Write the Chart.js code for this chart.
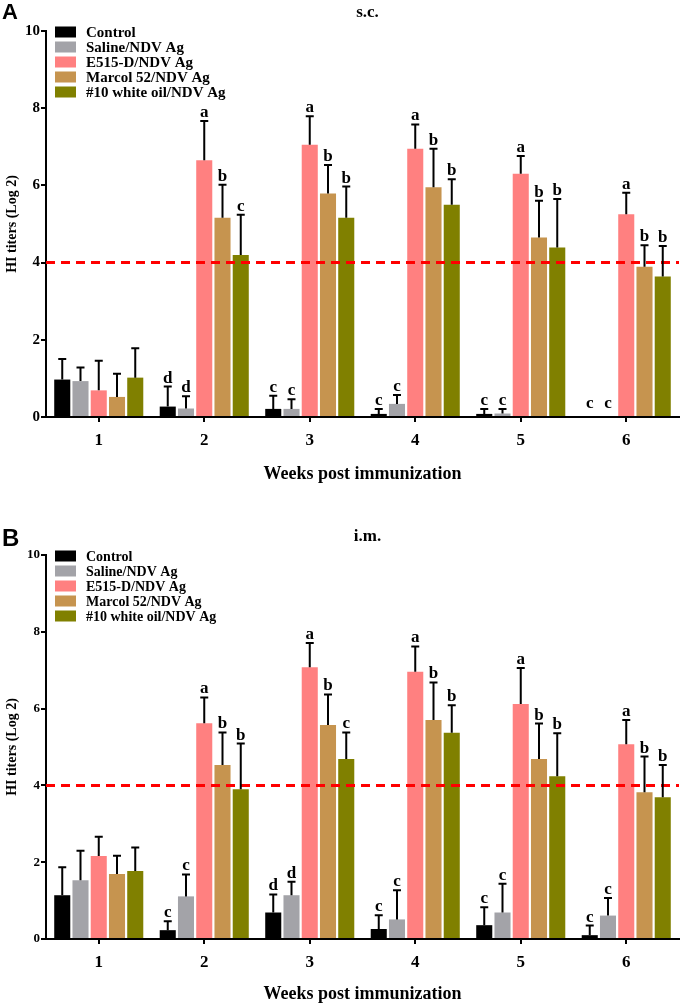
<!DOCTYPE html>
<html>
<head>
<meta charset="utf-8">
<script src="https://cdn.jsdelivr.net/npm/chart.js"></script>
<style>
  body { margin: 0; background: #fff; }
  canvas { display: block; }
</style>
</head>
<body>
<canvas id="chartA" width="688" height="504"></canvas>
<canvas id="chartB" width="688" height="504"></canvas>
<script>
const weeks = ["1", "2", "3", "4", "5", "6"];
const groups = ["Control", "Saline/NDV Ag", "E515-D/NDV Ag", "Marcol 52/NDV Ag", "#10 white oil/NDV Ag"];
const colors = ["#000000", "#a3a3a8", "#ff8080", "#c6944f", "#808000"];
const yTicks = [0, 2, 4, 6, 8, 10];
const cutoff = 4;

// s.c. - mean titers per group, one row per group
const scMeans = [
  [0.97, 0.27, 0.21, 0.08, 0.08, 0],
  [0.93, 0.22, 0.21, 0.34, 0.09, 0],
  [0.69, 6.65, 7.05, 6.95, 6.30, 5.25],
  [0.52, 5.16, 5.79, 5.95, 4.65, 3.89],
  [1.02, 4.20, 5.16, 5.50, 4.39, 3.64],
];
const scSD = [
  [0.53, 0.52, 0.34, 0.13, 0.13, 0],
  [0.35, 0.32, 0.25, 0.23, 0.12, 0],
  [0.77, 1.02, 0.74, 0.63, 0.46, 0.56],
  [0.60, 0.86, 0.74, 1.00, 0.95, 0.56],
  [0.76, 1.04, 0.81, 0.66, 1.26, 0.79],
];
const scLetters = [
  ["", "d", "c", "c", "c", "c"],
  ["", "d", "c", "c", "c", "c"],
  ["", "a", "a", "a", "a", "a"],
  ["", "b", "b", "b", "b", "b"],
  ["", "c", "b", "b", "b", "b"],
];

// i.m.
const imMeans = [
  [1.14, 0.23, 0.69, 0.26, 0.36, 0.10],
  [1.53, 1.11, 1.14, 0.51, 0.69, 0.61],
  [2.16, 5.62, 7.08, 6.96, 6.12, 5.07],
  [1.69, 4.53, 5.57, 5.70, 4.69, 3.82],
  [1.77, 3.90, 4.69, 5.37, 4.24, 3.69],
];
const imSD = [
  [0.73, 0.23, 0.47, 0.36, 0.47, 0.25],
  [0.77, 0.57, 0.35, 0.76, 0.75, 0.46],
  [0.50, 0.67, 0.63, 0.66, 0.94, 0.63],
  [0.48, 0.85, 0.80, 0.98, 0.92, 0.93],
  [0.61, 1.19, 0.69, 0.72, 1.12, 0.84],
];
const imLetters = [
  ["", "c", "d", "c", "c", "c"],
  ["", "c", "d", "c", "c", "c"],
  ["", "a", "a", "a", "a", "a"],
  ["", "b", "b", "b", "b", "b"],
  ["", "b", "c", "b", "b", "b"],
];

const serif = "'Liberation Serif', 'Times New Roman', serif";

// error bars, letters, cutoff line, legend and titles
const extras = {
  id: "extras",
  afterDatasetsDraw(chart, args, opts) {
    const { ctx, chartArea } = chart;
    const y = chart.scales.y;
    ctx.save();

    // dashed cutoff line
    const yc = y.getPixelForValue(cutoff);
    ctx.strokeStyle = "#ff0000";
    ctx.lineWidth = 3;
    ctx.setLineDash([9, 6]);
    ctx.beginPath();
    ctx.moveTo(chartArea.left, yc);
    ctx.lineTo(chartArea.right, yc);
    ctx.stroke();
    ctx.setLineDash([]);

    // error bars + letters
    ctx.strokeStyle = "#000";
    ctx.fillStyle = "#000";
    ctx.lineWidth = 2;
    ctx.font = "bold 17px " + serif;
    ctx.textAlign = "center";
    ctx.textBaseline = "alphabetic";
    chart.data.datasets.forEach((ds, i) => {
      chart.getDatasetMeta(i).data.forEach((bar, j) => {
        const sd = ds.sd[j];
        const yTop = y.getPixelForValue(ds.data[j] + sd);
        if (sd > 0) {
          ctx.beginPath();
          ctx.moveTo(bar.x, bar.y);
          ctx.lineTo(bar.x, yTop);
          ctx.moveTo(bar.x - 4, yTop);
          ctx.lineTo(bar.x + 4, yTop);
          ctx.stroke();
        }
        const lt = ds.letters[j];
        if (lt) {
          const ly = Math.min(yTop, y.getPixelForValue(0) - 5) - 4;
          ctx.fillText(lt, bar.x, ly);
        }
      });
    });

    // legend
    const lx = chartArea.left + 9;
    let ly = chartArea.top + 1;
    ctx.font = "bold " + opts.legendSize + "px " + serif;
    ctx.textAlign = "left";
    ctx.textBaseline = "middle";
    chart.data.datasets.forEach((ds) => {
      ctx.fillStyle = ds.backgroundColor;
      ctx.fillRect(lx, ly - 5.5, 21, 11);
      ctx.fillStyle = "#000";
      ctx.fillText(ds.label, lx + 31, ly + 1);
      ly += 15;
    });

    // panel title
    ctx.textAlign = "center";
    ctx.font = "bold 17px " + serif;
    ctx.fillText(opts.title, (chartArea.left + chartArea.right) / 2 + 5, opts.titleY);

    // panel letter
    ctx.textAlign = "left";
    ctx.textBaseline = "top";
    ctx.font = "bold " + opts.panelSize + "px 'Liberation Sans', Arial, sans-serif";
    ctx.fillText(opts.panel, 2, opts.panelY);
    ctx.restore();
  },
};

function makeChart(id, means, sds, letters, cfg) {
  const datasets = groups.map((g, i) => ({
    label: g,
    data: means[i],
    sd: sds[i],
    letters: letters[i],
    backgroundColor: colors[i],
    borderWidth: 0,
    categoryPercentage: 0.865,
    barPercentage: 0.88,
  }));

  return new Chart(document.getElementById(id).getContext("2d"), {
    type: "bar",
    data: { labels: weeks, datasets: datasets },
    plugins: [extras],
    options: {
      responsive: false,
      animation: false,
      layout: { padding: { top: cfg.top, right: 9, left: 0, bottom: 0 } },
      plugins: {
        legend: { display: false },
        tooltip: { enabled: false },
        extras: cfg.extras,
      },
      scales: {
        x: {
          afterFit: (s) => { s.height = cfg.xHeight; },
          grid: { offset: false, drawOnChartArea: false, color: "#000", lineWidth: 2, tickLength: 5 },
          border: { color: "#000", width: 2 },
          ticks: { color: "#000", padding: 8, font: { family: serif, size: 17, weight: "bold" } },
          title: {
            display: true,
            text: "Weeks post immunization",
            color: "#000",
            font: { family: serif, size: 18, weight: "bold" },
            padding: { top: 0, bottom: cfg.titlePad },
          },
        },
        y: {
          min: 0,
          max: 10,
          afterFit: (s) => { s.width = 46; },
          afterBuildTicks: (s) => { s.ticks = yTicks.map((v) => ({ value: v })); },
          grid: { drawOnChartArea: false, color: "#000", lineWidth: 2, tickLength: 5 },
          border: { color: "#000", width: 2 },
          ticks: { color: "#000", padding: 1, font: { family: serif, size: cfg.yTickSize, weight: "bold" } },
          title: {
            display: true,
            text: "HI titers (Log 2)",
            color: "#000",
            font: { family: serif, size: 14, weight: "bold" },
            padding: { top: 4, bottom: 0 },
          },
        },
      },
    },
  });
}

makeChart("chartA", scMeans, scSD, scLetters, {
  top: 31,
  xHeight: 87,
  titlePad: 19,
  yTickSize: 15,
  extras: { title: "s.c.", titleY: 13, panel: "A", panelY: 2, panelSize: 22, legendSize: 15 },
});

makeChart("chartB", imMeans, imSD, imLetters, {
  top: 51,
  xHeight: 69,
  titlePad: 3,
  yTickSize: 13,
  extras: { title: "i.m.", titleY: 33, panel: "B", panelY: 23, panelSize: 24, legendSize: 14 },
});
</script>
</body>
</html>
